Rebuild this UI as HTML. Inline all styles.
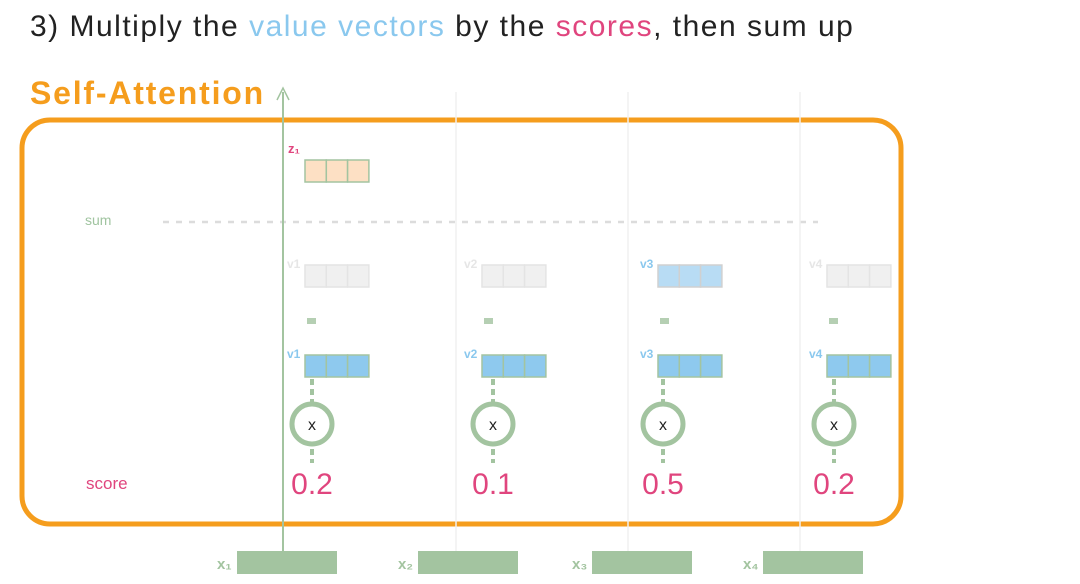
<!DOCTYPE html>
<html><head><meta charset="utf-8"><style>
html,body{margin:0;padding:0;background:#fff;}
svg{display:block;font-family:"Liberation Sans",sans-serif;}
</style></head><body>
<svg id="c" width="1080" height="584" viewBox="0 0 1080 584" xmlns="http://www.w3.org/2000/svg">
<text x="30" y="36" font-size="30" letter-spacing="1.5" fill="#222">3) Multiply the <tspan fill="#8ac8ee">value vectors</tspan> by the <tspan fill="#e0457e">scores</tspan>, then sum up</text>
<text x="30" y="104" font-size="32" font-weight="bold" letter-spacing="1.8" fill="#f59d1d">Self-Attention</text>
<rect x="22" y="120" width="879" height="404" rx="28" fill="none" stroke="#f59d1d" stroke-width="5"/>
<text x="85" y="225" font-size="14" fill="#a0c4a0">sum</text>
<line x1="163" y1="222" x2="818" y2="222" stroke="#dcdcdc" stroke-width="2.5" stroke-dasharray="6,7"/>
<text x="86" y="489" font-size="17" fill="#e0457e">score</text>
<g id="cols"></g>
</svg>
<script>
const labels = ["1","2","3","4"];
const scores = [0.2, 0.1, 0.5, 0.2];
const weightedVisible = [0.15, 0.05, 1, 0.15];
const ns = "http://www.w3.org/2000/svg";
const g = document.getElementById('cols');
const colX = [312, 493, 663, 834];
const boxX = [305, 482, 658, 827];
const xBoxX = [237, 418, 592, 763];
const sub = ["₁","₂","₃","₄"];
function mk(tag, attrs, text){
  const e = document.createElementNS(ns, tag);
  for (const k in attrs) e.setAttribute(k, attrs[k]);
  if (text !== undefined) e.textContent = text;
  g.appendChild(e);
  return e;
}
function vec(x, y, fill, stroke, op){
  for (let j=0;j<3;j++){
    const r = mk('rect',{x:x+j*21.3,y:y,width:21.3,height:22,fill:fill,stroke:stroke,'stroke-width':1.5,opacity:op});
    
    
  }
}
scores.forEach((s,i)=>{
  const cx = colX[i];
  if (i===0){
    const l = mk('line',{x1:283,y1:552,x2:283,y2:92,stroke:'#a3c4a0','stroke-width':2});
    
    
    const a = mk('path',{d:'M277,100 L283,88 L289,100',fill:'none',stroke:'#a3c4a0','stroke-width':1.5});
    
    
  } else {
    const vx = [456,628,800][i-1];
    const l = mk('line',{x1:vx,y1:552,x2:vx,y2:92,stroke:'#f0f0f0','stroke-width':1.5});
    
    
  }
  const bx = boxX[i];
  const op = weightedVisible[i];
  const wl = mk('text',{x:bx-18,y:268,'font-size':12,'font-weight':'bold',fill:op>0.5?'#8ac8ee':'#e6e6e6'},'v'+labels[i]);
  
  
  vec(bx,265,op>0.5?'#b8dcf4':'#f0f0f0',op>0.5?'#d0d0d0':'#e4e4e4',1);
  const eq = mk('rect',{x:bx+2,y:318,width:9,height:6,fill:'#b5cfb3'});
  
  
  const vl = mk('text',{x:bx-18,y:358,'font-size':12,'font-weight':'bold',fill:'#8ac8ee'},'v'+labels[i]);
  
  
  vec(bx,355,'#8ec9ee','#a3c4a0',1);
  const st = mk('line',{x1:cx,y1:379,x2:cx,y2:470,stroke:'#a3c4a0','stroke-width':4,'stroke-dasharray':'6,4'});
  
  
  const c = mk('circle',{cx:cx,cy:424,r:20,fill:'#fff',stroke:'#a3c4a0','stroke-width':5});
  
  
  const xt = mk('text',{x:cx,y:430,'font-size':16,fill:'#222','text-anchor':'middle'},'x');
  
  
  mk('rect',{x:cx-25,y:463,width:50,height:40,fill:'#fff'});
  const t = mk('text',{x:cx,y:494,'font-size':30,fill:'#e0457e','text-anchor':'middle'},String(s));
  
  
  const xl = mk('text',{x:xBoxX[i]-20,y:569,'font-size':15,'font-weight':'bold',fill:'#a3c4a0'},'x'+sub[i]);
  
  
  const xb = mk('rect',{x:xBoxX[i],y:551,width:100,height:23,fill:'#a3c4a0'});
  
  
});
const zl = mk('text',{x:288,y:153,'font-size':13,'font-weight':'bold',fill:'#e0457e'},'z₁');


vec(305,160,'#fde0c4','#a3c4a0',1);
</script>
</body></html>
